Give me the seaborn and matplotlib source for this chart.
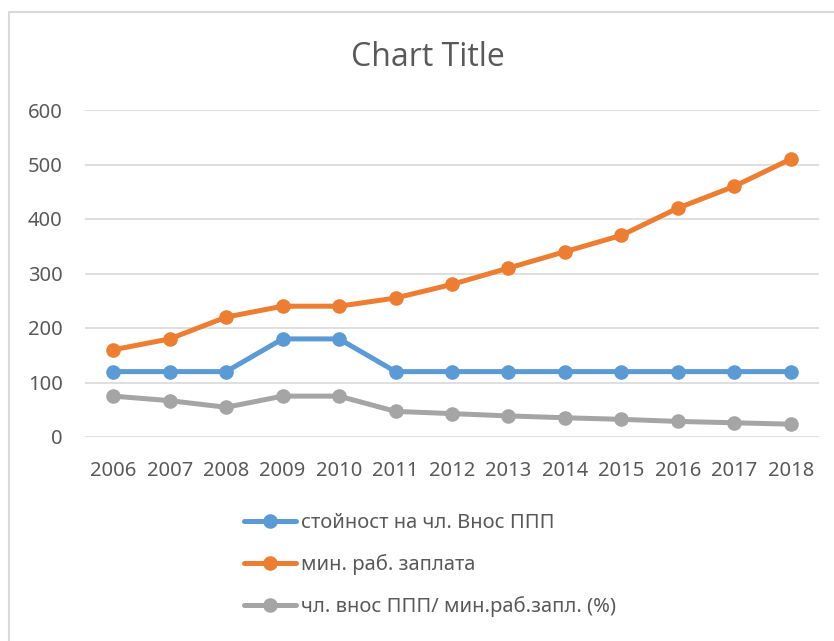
import matplotlib
matplotlib.use("Agg")
import matplotlib.pyplot as plt
import matplotlib.patches as mpatches
import pandas as pd
import seaborn as sns

# data
years = [2006, 2007, 2008, 2009, 2010, 2011, 2012, 2013, 2014, 2015, 2016, 2017, 2018]
contribution = [120, 120, 120, 180, 180, 120, 120, 120, 120, 120, 120, 120, 120]
min_wage = [160, 180, 220, 240, 240, 255, 280, 310, 340, 370, 420, 460, 510]
ratio_pct = [75, 66.7, 54.5, 75, 75, 47, 42.9, 38.7, 35.3, 32.4, 28.6, 26.1, 23.5]

series_names = ["стойност на чл. Внос ППП",
                "мин. раб. заплата",
                "чл. внос ППП/ мин.раб.запл. (%)"]
colors = ["#5B9BD5", "#ED7D31", "#A5A5A5"]
y_ticks = [0, 100, 200, 300, 400, 500, 600]

df = pd.DataFrame({
    "year": years * 3,
    "value": contribution + min_wage + ratio_pct,
    "series": [series_names[0]] * len(years) + [series_names[1]] * len(years)
              + [series_names[2]] * len(years),
})

sns.set_theme(style="white")
plt.rcParams["font.family"] = ["Noto Sans", "DejaVu Sans"]
text_col = "#595959"

fig = plt.figure(figsize=(8.34, 6.41), dpi=100)
ax = fig.add_axes([85 / 834, 1 - 437 / 641, 734 / 834, 327 / 641])

sns.lineplot(data=df, x="year", y="value", hue="series", hue_order=series_names,
             palette=colors, marker="o", markersize=10.5, markeredgewidth=0,
             linewidth=3.6, ax=ax)

ax.set_xlim(years[0] - 0.5, years[-1] + 0.5)
ax.set_ylim(0, 600)
ax.set_xticks(years)
ax.set_xticklabels([str(y) for y in years])
ax.set_yticks(y_ticks)
ax.set_xlabel("")
ax.set_ylabel("")
ax.grid(axis="y", color="#D9D9D9", linewidth=1.2)
ax.set_axisbelow(True)
for s in ax.spines.values():
    s.set_visible(False)
ax.tick_params(axis="x", length=0, pad=17, labelsize=14.5, labelcolor=text_col)
ax.tick_params(axis="y", length=0, pad=16, labelsize=14.5, labelcolor=text_col)

handles, labels = ax.get_legend_handles_labels()
ax.legend(handles, labels, loc="upper left", bbox_to_anchor=(236 / 834, 1 - 505 / 641),
          bbox_transform=fig.transFigure, frameon=False, fontsize=14.5,
          labelcolor=text_col, handlelength=2.6, handletextpad=0.25,
          labelspacing=1.05, borderaxespad=0)

fig.text(428 / 834, 1 - 57 / 641, "Chart Title", ha="center", va="center",
         fontsize=23, color=text_col, family=["Open Sans", "DejaVu Sans"])

# chart frame like the spreadsheet
fig.patches.append(mpatches.Rectangle((9 / 834, -0.05), 1.1, 0.05 + 1 - 12 / 641,
                                      transform=fig.transFigure, fill=False,
                                      edgecolor="#D9D9D9", linewidth=1.5))

fig.savefig("out.png", dpi=100)
